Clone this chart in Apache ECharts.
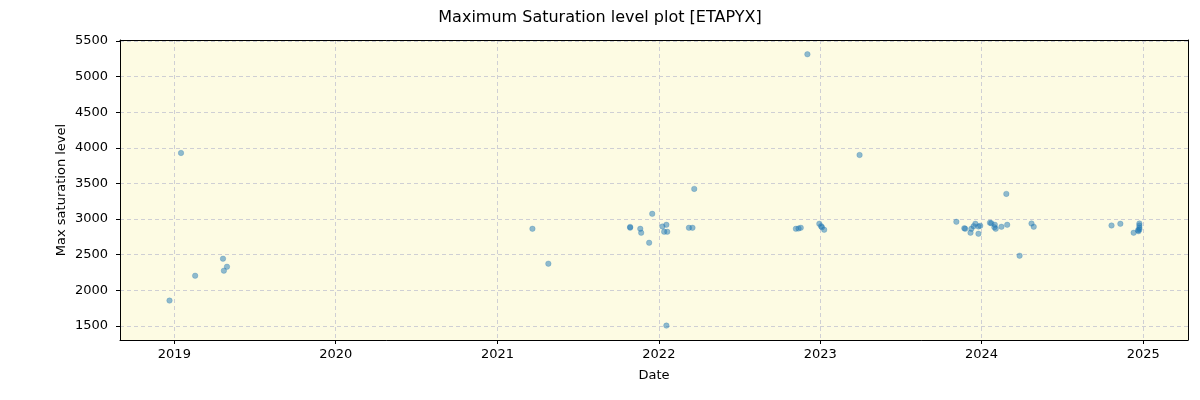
<!DOCTYPE html>
<html>
<head>
<meta charset="utf-8">
<script src="https://cdn.jsdelivr.net/npm/echarts@6/dist/echarts.min.js"></script>
<style>
html,body{margin:0;padding:0;background:#fff;}
#chart{width:1200px;height:400px;}
</style>
</head>
<body>
<div id="chart"></div>
<script>
const title = 'Maximum Saturation level plot [ETAPYX]';
const xLabel = 'Date';
const yLabel = 'Max saturation level';

const dates = [
  '2018-12-21','2019-01-16','2019-02-17','2019-04-21','2019-04-23','2019-04-30',
  '2021-03-21','2021-04-26','2021-10-28','2021-10-28','2021-11-20','2021-11-22','2021-12-10','2021-12-17',
  '2022-01-09','2022-01-13','2022-01-18','2022-01-18','2022-01-20','2022-03-10','2022-03-18','2022-03-22',
  '2022-11-07','2022-11-13','2022-11-18','2022-12-03','2022-12-30','2023-01-03','2023-01-05','2023-01-10','2023-03-31',
  '2023-11-05','2023-11-23','2023-11-25','2023-12-07','2023-12-09','2023-12-14','2023-12-18','2023-12-25','2023-12-25','2023-12-29',
  '2024-01-20','2024-01-23','2024-01-30','2024-01-31','2024-02-02','2024-02-15','2024-02-26','2024-02-28','2024-03-27','2024-04-23','2024-04-28',
  '2024-10-21','2024-11-10','2024-12-10','2024-12-20','2024-12-21','2024-12-23','2024-12-23','2024-12-23','2024-12-23'
];
const values = [
  1856, 3928, 2205, 2444, 2276, 2331,
  2864, 2374, 2880, 2890, 2864, 2808, 2668, 3074,
  2896, 2822, 2920, 1505, 2822, 2878, 2878, 3424,
  2864, 2868, 2878, 5314, 2934, 2900, 2886, 2850, 3900,
  2962, 2872, 2864, 2808, 2864, 2900, 2934, 2794, 2896, 2906,
  2948, 2942, 2886, 2920, 2864, 2892, 3354, 2920, 2486, 2938, 2892,
  2910, 2934, 2808, 2844, 2830, 2938, 2910, 2878, 2854
];

const xMin = '2018-08-31';
const xMax = '2025-04-12';
const yMin = 1303;
const yMax = 5514;

const points = dates.map((d, i) => [d, values[i]]);

const chart = echarts.init(document.getElementById('chart'), null, {renderer: 'canvas'});
const font = 'DejaVu Sans';
const frameAxis = {
  axisLine: {show: true, onZero: false, lineStyle: {color: '#000', width: 1}},
  axisTick: {show: false}, axisLabel: {show: false}, splitLine: {show: false}
};
chart.setOption({
  animation: false,
  backgroundColor: '#ffffff',
  title: {
    text: title, left: 'center', top: 5,
    textStyle: {fontFamily: font, fontSize: 16, fontWeight: 'normal', color: '#000'}
  },
  grid: {
    left: 120, right: 12, top: 40, bottom: 60,
    show: true, backgroundColor: '#fdfbe3', borderColor: '#000', borderWidth: 0
  },
  xAxis: [{
    type: 'time',
    min: xMin, max: xMax,
    minInterval: 365 * 86400000,
    maxInterval: 366 * 86400000,
    name: xLabel, nameLocation: 'middle', nameGap: 29, nameMoveOverlap: false,
    nameTextStyle: {fontFamily: font, fontSize: 13, color: '#000'},
    axisLine: {show: true, onZero: false, lineStyle: {color: '#000'}},
    axisTick: {show: true, length: 4, lineStyle: {color: '#000'}},
    axisLabel: {
      fontFamily: font, fontSize: 13, color: '#000', margin: 8,
      formatter: '{yyyy}', showMinLabel: false, showMaxLabel: false,
      hideOverlap: false
    },
    minorTick: {show: false},
    splitLine: {show: true, lineStyle: {color: '#cfcfd4', type: [4, 3], width: 1}}
  }, Object.assign({type: 'time', position: 'top', min: xMin, max: xMax}, frameAxis)],
  yAxis: [{
    type: 'value',
    min: yMin, max: yMax, splitNumber: 8,
    name: yLabel, nameLocation: 'middle', nameGap: 52, nameRotate: 90, nameMoveOverlap: false,
    nameTextStyle: {fontFamily: font, fontSize: 13, color: '#000'},
    axisLine: {show: true, onZero: false, lineStyle: {color: '#000'}},
    axisTick: {show: true, length: 4, lineStyle: {color: '#000'}},
    axisLabel: {fontFamily: font, fontSize: 13, color: '#000', margin: 12,
      showMinLabel: false, showMaxLabel: false, formatter: v => String(v)},
    splitLine: {show: true, lineStyle: {color: '#cfcfd4', type: [4, 3], width: 1}}
  }, Object.assign({type: 'value', position: 'right', min: yMin, max: yMax}, frameAxis)],
  series: [{
    type: 'scatter',
    data: points,
    symbolSize: 5.5,
    itemStyle: {color: 'rgba(31,119,180,0.62)', borderColor: 'rgba(31,119,180,0.62)', borderWidth: 0.5}
  }]
});
</script>
</body>
</html>
